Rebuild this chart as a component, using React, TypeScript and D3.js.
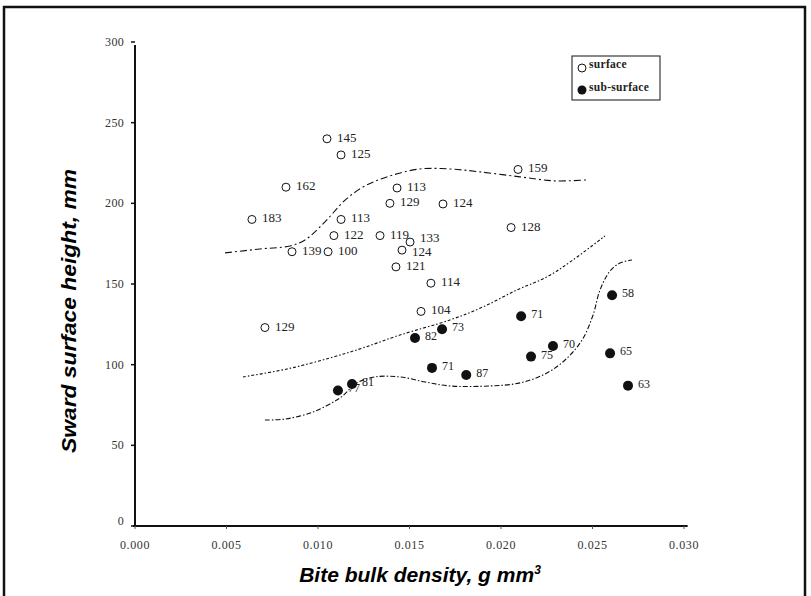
import React from "react";
import * as d3 from "d3";

// ---- data ----
const xTicks = [0, 0.005, 0.01, 0.015, 0.02, 0.025, 0.03];
const xTickLabels = ["0.000", "0.005", "0.010", "0.015", "0.020", "0.025", "0.030"];
const yTicks = [0, 50, 100, 150, 200, 250, 300];
const yTickLabels = ["0", "50", "100", "150", "200", "250", "300"];

// surface (open circles)
const surfaceX = [0.01049, 0.01126, 0.00825, 0.00639, 0.01432, 0.01393, 0.01683, 0.02093, 0.01126, 0.01087, 0.01339, 0.01503, 0.01459, 0.00858, 0.01055, 0.01426, 0.01617, 0.02055, 0.01563, 0.0071];
const surfaceY = [240, 230, 210, 190, 209.5, 200, 199.6, 221, 190, 180, 180, 176, 171, 170, 170, 160.6, 150.5, 185, 133, 123];
const surfaceLabels = ["145", "125", "162", "183", "113", "129", "124", "159", "113", "122", "119", "133", "124", "139", "100", "121", "114", "128", "104", "129"];

// sub-surface (filled circles)
const subX = [0.02607, 0.0211, 0.01678, 0.0153, 0.02284, 0.02164, 0.02596, 0.01623, 0.0181, 0.02694, 0.01109, 0.01186];
const subY = [143, 130, 122, 116.5, 111.6, 105, 107, 98, 93.6, 87, 84, 88];
const subLabels = ["58", "71", "73", "82", "70", "75", "65", "71", "87", "63", "77", "81"];

// hand-drawn boundary curves
const upperX = [0.00492, 0.00683, 0.00847, 0.00929, 0.01038, 0.01148, 0.01257, 0.01393, 0.01557, 0.01721, 0.01885, 0.02104, 0.02295, 0.02464];
const upperY = [169.3, 171.7, 173.6, 177.3, 188.5, 202, 210.8, 217, 221.3, 221.3, 219.5, 216.4, 213.9, 214.5];
const middleX = [0.0059, 0.0083, 0.01066, 0.01246, 0.01448, 0.01721, 0.01902, 0.02087, 0.02251, 0.02393, 0.02568];
const middleY = [92.4, 97.3, 104.2, 110.4, 118.4, 127.7, 135.8, 146.3, 154.4, 164.9, 179.8];
const lowerX = [0.0071, 0.0082, 0.00973, 0.0112, 0.01213, 0.01311, 0.01448, 0.01585, 0.01721, 0.0194, 0.02104, 0.0224, 0.0235, 0.02443, 0.02503, 0.02541, 0.02596, 0.0265, 0.02716];
const lowerY = [65.7, 66.3, 70.7, 79.4, 88.7, 92.4, 92.4, 89.3, 86.8, 86.8, 88.7, 94.2, 102.9, 115.3, 130.8, 146.3, 158.1, 163, 164.9];

const legendLabels = ["surface", "sub-surface"];

export default function App() {
  const W = 811, H = 596;
  const x = d3.scaleLinear().domain([0, 0.03]).range([135, 684]);
  const y = d3.scaleLinear().domain([0, 300]).range([526, 42]);
  const line = d3
    .line<[number, number]>()
    .x((d) => x(d[0]))
    .y((d) => y(d[1]))
    .curve(d3.curveCatmullRom.alpha(0.5));
  const zip = (a: number[], b: number[]) => a.map((v, i) => [v, b[i]] as [number, number]);
  const serif = "'Liberation Serif', 'DejaVu Serif', serif";
  const sans = "'Liberation Sans', Arial, sans-serif";
  const ink = "#111";
  // small nudges for crowded labels (133 sits above 124 in the original)
  const labelNudge = (i: number) => (i === 11 ? -3 : i === 12 ? 3 : 0);

  return (
    <svg
      width={W}
      height={H}
      style={{ position: "absolute", left: 0, top: 0, background: "#fff" }}
    >
      <rect x={0} y={0} width={W} height={H} fill="#fff" />
      {/* outer frame */}
      <rect x={4} y={7} width={801} height={595} fill="none" stroke={ink} strokeWidth={2.5} />

      {/* axes */}
      <line x1={x(0)} x2={x(0)} y1={y(0)} y2={y(300) + 3} stroke={ink} strokeWidth={2} />
      <line x1={x(0) - 2} x2={x(0.0302)} y1={y(0)} y2={y(0)} stroke={ink} strokeWidth={2} />
      {yTicks.map((t, i) => (
        <g key={"yt" + i}>
          <line x1={x(0) - 4} x2={x(0)} y1={y(t)} y2={y(t)} stroke={ink} strokeWidth={1.5} />
          <text
            x={x(0) - 11}
            y={y(t) + (t === 0 ? -1 : 4)}
            textAnchor="end"
            fontFamily={serif}
            fontSize={12}
            letterSpacing={0.3}
            fill="#333"
          >
            {yTickLabels[i]}
          </text>
        </g>
      ))}
      {xTicks.map((t, i) => (
        <g key={"xt" + i}>
          <line x1={x(t)} x2={x(t)} y1={y(0)} y2={y(0) + 3} stroke="#555" strokeWidth={1} />
          <text
            x={x(t)}
            y={y(0) + 23}
            textAnchor="middle"
            fontFamily={serif}
            fontSize={12}
            letterSpacing={0.6}
            fill="#333"
          >
            {xTickLabels[i]}
          </text>
        </g>
      ))}

      {/* curves */}
      <path d={line(zip(upperX, upperY)) || ""} fill="none" stroke={ink} strokeWidth={1.1} strokeDasharray="7,3,2,3" />
      <path d={line(zip(middleX, middleY)) || ""} fill="none" stroke={ink} strokeWidth={1.1} strokeDasharray="3,2,1.5,2" />
      <path d={line(zip(lowerX, lowerY)) || ""} fill="none" stroke={ink} strokeWidth={1.1} strokeDasharray="5,2,1.5,2" />

      {/* surface points */}
      {surfaceX.map((v, i) => (
        <g key={"s" + i}>
          <circle cx={x(v)} cy={y(surfaceY[i])} r={4} fill="#fff" stroke={ink} strokeWidth={1} />
          <text
            x={x(v) + 10}
            y={y(surfaceY[i]) + 3 + labelNudge(i)}
            fontFamily={serif}
            fontSize={13}
            fill="#222"
          >
            {surfaceLabels[i]}
          </text>
        </g>
      ))}
      {/* sub-surface points */}
      {subX.map((v, i) => (
        <g key={"b" + i}>
          <circle cx={x(v)} cy={y(subY[i])} r={5} fill={ink} />
          <text x={x(v) + 10} y={y(subY[i]) + 2} fontFamily={serif} fontSize={12} fill="#222">
            {subLabels[i]}
          </text>
        </g>
      ))}

      {/* legend */}
      <rect x={572} y={56} width={88} height={44} fill="#fff" stroke={ink} strokeWidth={1} />
      <circle cx={582} cy={68} r={4} fill="#fff" stroke={ink} strokeWidth={1} />
      <text x={589} y={68} fontFamily={serif} fontSize={11.5} fontWeight="bold" letterSpacing={0.3} fill="#222">
        {legendLabels[0]}
      </text>
      <circle cx={582} cy={90} r={4.5} fill={ink} />
      <text x={589} y={91} fontFamily={serif} fontSize={11.5} fontWeight="bold" letterSpacing={0.3} fill="#222">
        {legendLabels[1]}
      </text>

      {/* axis titles */}
      <text
        transform={`translate(76, 311) rotate(-90)`}
        textAnchor="middle"
        fontFamily={sans}
        fontWeight="bold"
        fontStyle="italic"
        fontSize={21}
        textLength={284}
        lengthAdjust="spacingAndGlyphs"
        fill="#000"
      >
        Sward surface height, mm
      </text>
      <text
        x={420}
        y={582}
        textAnchor="middle"
        fontFamily={sans}
        fontWeight="bold"
        fontStyle="italic"
        fontSize={21}
        fill="#000"
      >
        Bite bulk density, g mm
        <tspan dy={-8} fontSize={12}>3</tspan>
      </text>
    </svg>
  );
}
